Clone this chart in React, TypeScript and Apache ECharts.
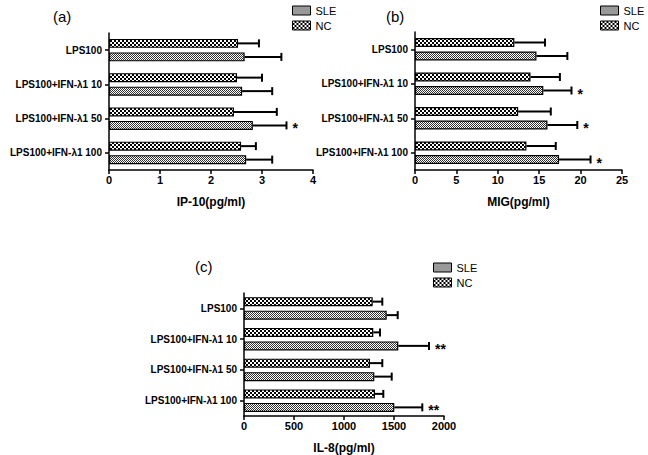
import React, { useEffect, useRef } from "react";
import * as echarts from "echarts";

const categories = ["LPS100", "LPS100+IFN-λ1 10", "LPS100+IFN-λ1 50", "LPS100+IFN-λ1 100"];
const seriesNames = ["SLE", "NC"];

// Panel (a) IP-10
const ipNC = [2.53, 2.51, 2.45, 2.59];
const ipNCErr = [2.94, 3.0, 3.29, 2.88];
const ipSLE = [2.66, 2.61, 2.82, 2.69];
const ipSLEErr = [3.38, 3.2, 3.48, 3.2];
const ipSig = ["", "", "*", ""];
const ipTicks = { max: 4, interval: 1 };

// Panel (b) MIG
const migNC = [12.0, 13.95, 12.46, 13.46];
const migNCErr = [15.7, 17.5, 16.4, 17.0];
const migSLE = [14.67, 15.5, 16.0, 17.4];
const migSLEErr = [18.4, 18.9, 19.6, 21.2];
const migSig = ["", "*", "*", "*"];
const migTicks = { max: 25, interval: 5 };

// Panel (c) IL-8
const il8NC = [1287, 1293, 1260, 1310];
const il8NCErr = [1383, 1360, 1383, 1393];
const il8SLE = [1427, 1543, 1303, 1503];
const il8SLEErr = [1537, 1850, 1477, 1783];
const il8Sig = ["", "**", "", "**"];
const il8Ticks = { max: 2000, interval: 500 };

const panelTitles = ["(a)", "(b)", "(c)"];
const axisNames = ["IP-10(pg/ml)", "MIG(pg/ml)", "IL-8(pg/ml)"];

const FONT = "'Liberation Sans', Arial, sans-serif";
const BAR_W = 9;
const BAR_GAP = 4.5;

function makePattern(kind: string) {
  const c = document.createElement("canvas");
  if (kind === "checker") {
    c.width = 4;
    c.height = 4;
    const ctx = c.getContext("2d")!;
    ctx.fillStyle = "#000";
    ctx.fillRect(0, 0, 4, 4);
    ctx.fillStyle = "#fff";
    ctx.fillRect(0, 0, 2, 2);
    ctx.fillRect(2, 2, 2, 2);
  } else {
    c.width = 2;
    c.height = 2;
    const ctx = c.getContext("2d")!;
    ctx.fillStyle = "#fff";
    ctx.fillRect(0, 0, 2, 2);
    ctx.fillStyle = "#333";
    ctx.fillRect(0, 0, 1, 1);
    ctx.fillRect(1, 1, 1, 1);
  }
  return { image: c, repeat: "repeat", imageWidth: c.width, imageHeight: c.height } as any;
}

export default function App() {
  const ref = useRef<HTMLDivElement>(null);
  useEffect(() => {
    if (!ref.current) return;
    const chart = echarts.init(ref.current, undefined, { renderer: "svg" });
    const ncFill = makePattern("checker");
    const sleFill = makePattern("fine");

    const panels = [
      { nc: ipNC, ncErr: ipNCErr, sle: ipSLE, sleErr: ipSLEErr, sig: ipSig, ticks: ipTicks },
      { nc: migNC, ncErr: migNCErr, sle: migSLE, sleErr: migSLEErr, sig: migSig, ticks: migTicks },
      { nc: il8NC, ncErr: il8NCErr, sle: il8SLE, sleErr: il8SLEErr, sig: il8Sig, ticks: il8Ticks },
    ];
    const grids = [
      { left: 109, top: 33, width: 204, height: 137 },
      { left: 415, top: 32, width: 207, height: 138 },
      { left: 244, top: 293, width: 200, height: 130 },
    ];
    const titlePos = [
      { left: 53, top: 9 },
      { left: 386, top: 9 },
      { left: 195, top: 259 },
    ];
    const legendPos = [
      { left: 292, top: 5 },
      { left: 600, top: 5 },
      { left: 433, top: 262 },
    ];

    const axisLine = { show: true, lineStyle: { color: "#000", width: 1.5 } };
    const axisTick = { show: true, length: 4, lineStyle: { color: "#000", width: 1.5 } };

    const xAxis = panels.map((p, i) => ({
      type: "value",
      gridIndex: i,
      min: 0,
      max: p.ticks.max,
      interval: p.ticks.interval,
      axisLine,
      axisTick,
      splitLine: { show: false },
      axisLabel: {
        color: "#000",
        fontFamily: FONT,
        fontWeight: "bold",
        fontSize: 11,
        margin: 4,
        formatter: (v: number) => String(v),
      },
      name: axisNames[i],
      nameLocation: "middle",
      nameGap: 26,
      nameTextStyle: { color: "#000", fontFamily: FONT, fontWeight: "bold", fontSize: 12 },
    }));
    const yAxis = panels.map((_, i) => ({
      type: "category",
      gridIndex: i,
      data: categories,
      inverse: true,
      axisLine,
      axisTick: { ...axisTick, alignWithLabel: true },
      axisLabel: { color: "#000", fontFamily: FONT, fontWeight: "bold", fontSize: 10, margin: 7 },
    }));

    const makeErr = (vals: number[], errs: number[], sig: string[], offset: number, i: number, name: string) => ({
      type: "custom",
      name,
      xAxisIndex: i,
      yAxisIndex: i,
      silent: true,
      z: 5,
      data: vals.map((v, k) => [v, k, errs[k]]),
      encode: { x: [0, 2], y: 1 },
      renderItem: (params: any, api: any) => {
        const v = api.value(0);
        const c = api.value(1);
        const e = api.value(2);
        const s = sig[params.dataIndex];
        const p0 = api.coord([v, c]);
        const p1 = api.coord([e, c]);
        const y = p0[1] + offset;
        const children: any[] = [
          { type: "line", shape: { x1: p0[0], y1: y, x2: p1[0], y2: y }, style: { stroke: "#000", lineWidth: 2 } },
          { type: "line", shape: { x1: p1[0], y1: y - 4, x2: p1[0], y2: y + 4 }, style: { stroke: "#000", lineWidth: 2 } },
        ];
        if (s) {
          children.push({
            type: "text",
            x: p1[0] + 6,
            y: y + 3,
            style: { text: s, fill: "#000", font: `bold 14px ${FONT}`, verticalAlign: "middle", align: "left" },
          });
        }
        return { type: "group", children };
      },
    });

    const series: any[] = [];
    panels.forEach((p, i) => {
      series.push({
        type: "bar",
        name: "NC",
        xAxisIndex: i,
        yAxisIndex: i,
        data: p.nc,
        barWidth: BAR_W,
        barGap: "50%",
        itemStyle: { color: ncFill, borderColor: "#000", borderWidth: 1.2 },
      });
      series.push({
        type: "bar",
        name: "SLE",
        xAxisIndex: i,
        yAxisIndex: i,
        data: p.sle,
        barWidth: BAR_W,
        barGap: "50%",
        itemStyle: { color: sleFill, borderColor: "#000", borderWidth: 1.2 },
      });
      series.push(makeErr(p.nc, p.ncErr, ["", "", "", ""], -(BAR_W + BAR_GAP) / 2, i, "errNC" + i));
      series.push(makeErr(p.sle, p.sleErr, p.sig, (BAR_W + BAR_GAP) / 2, i, "errSLE" + i));
    });

    chart.setOption({
      animation: false,
      backgroundColor: "#fff",
      title: panelTitles.map((t, i) => ({
        text: t,
        ...titlePos[i],
        padding: 0,
        textStyle: { color: "#000", fontFamily: FONT, fontWeight: "normal", fontSize: 15 },
      })),
      legend: legendPos.map((lp) => ({
        ...lp,
        padding: 0,
        orient: "vertical",
        data: seriesNames,
        icon: "rect",
        itemWidth: 18,
        itemHeight: 9,
        itemGap: 4,
        selectedMode: false,
        itemStyle: { borderColor: "#000", borderWidth: 1 },
        textStyle: { color: "#000", fontFamily: FONT, fontSize: 11 },
      })),
      grid: grids,
      xAxis,
      yAxis,
      series,
    } as any);
    return () => chart.dispose();
  }, []);
  return (
    <div
      ref={ref}
      style={{ position: "fixed", left: 0, top: 0, width: 648, height: 455, background: "#fff" }}
    />
  );
}
